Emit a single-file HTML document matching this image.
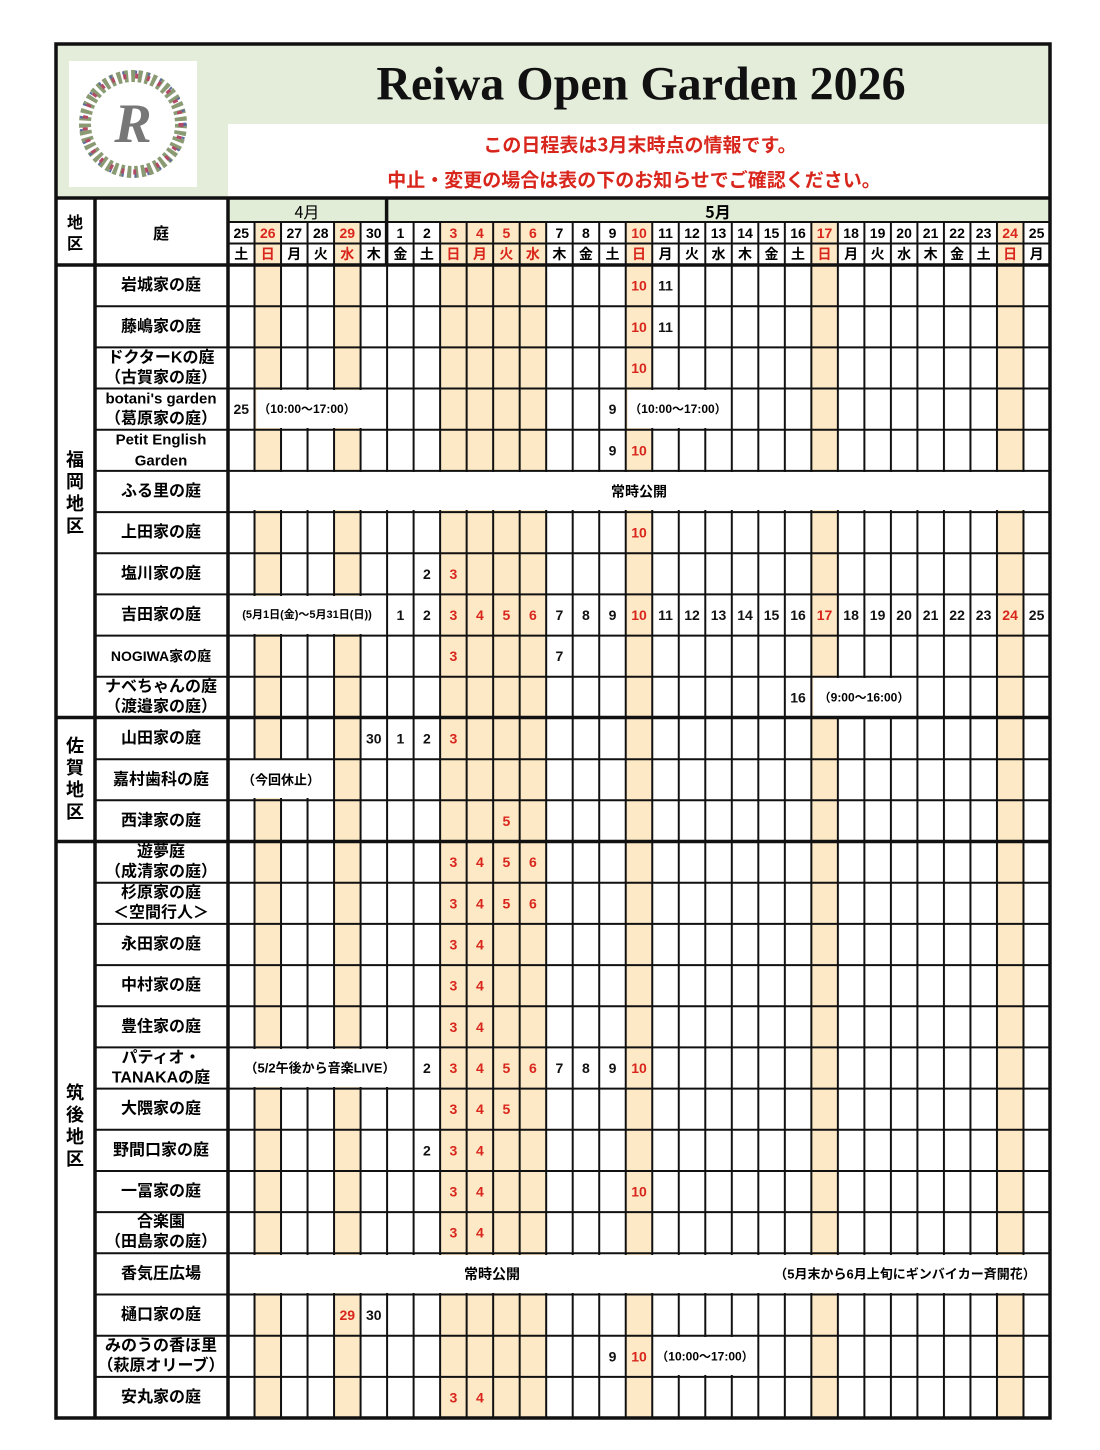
<!DOCTYPE html>
<html><head><meta charset="utf-8"><style>
html,body{margin:0;padding:0;background:#fff;}
svg{display:block;}
text{font-family:"Liberation Sans","Noto Sans CJK JP",sans-serif;font-weight:bold;dominant-baseline:central;text-anchor:middle;}
.j{font-family:"Noto Sans CJK JP","Liberation Sans",sans-serif;font-size:16px;}
.n{font-size:14px;fill:#111;}
.r{fill:#d9261c;}
.s{font-family:"Liberation Sans","Noto Sans CJK JP",sans-serif;font-size:12px;}
.h{font-size:14px;}
</style></head><body>
<svg width="1100" height="1450" viewBox="0 0 1100 1450" xmlns="http://www.w3.org/2000/svg">
<defs>
<pattern id="v" x="227" y="0" width="26.516" height="10" patternUnits="userSpaceOnUse"><rect x="0" y="0" width="2" height="10" fill="#111"/></pattern>
</defs>
<rect x="55" y="43" width="995" height="155" fill="#e3edda"/>
<rect x="69" y="61" width="128" height="126" fill="#fff"/>
<circle cx="133" cy="124" r="48" fill="none" stroke="#8a9b74" stroke-width="12" stroke-dasharray="4 3"/>
<circle cx="133" cy="124" r="48" fill="none" stroke="#b24a66" stroke-width="5" stroke-dasharray="3 9"/>
<circle cx="133" cy="124" r="52" fill="none" stroke="#5a6aa0" stroke-width="3" stroke-dasharray="2 11"/>
<text x="133" y="124" style="font-family:'Liberation Serif',serif;font-size:56px;fill:#777;font-style:italic">R</text>
<text x="641" y="84" style="font-family:'Liberation Serif',serif;font-size:48px;font-weight:bold;fill:#111">Reiwa Open Garden 2026</text>
<rect x="228" y="124" width="822" height="74" fill="#fff"/>
<text x="640" y="144" class="j r" style="font-size:19px">この日程表は3月末時点の情報です。</text>
<text x="634" y="179" class="j r" style="font-size:19px">中止・変更の場合は表の下のお知らせでご確認ください。</text>
<rect x="228" y="198" width="822" height="24" fill="#e2edd8"/>
<text x="307" y="211" class="j" style="font-weight:normal">4月</text>
<text x="718" y="211" class="j">5月</text>
<g fill="#fde9c6">
<rect x="254.5" y="222" width="26.5" height="1196"/>
<rect x="334.1" y="222" width="26.5" height="1196"/>
<rect x="440.1" y="222" width="106.1" height="1196"/>
<rect x="625.7" y="222" width="26.5" height="1196"/>
<rect x="811.4" y="222" width="26.5" height="1196"/>
<rect x="997" y="222" width="26.5" height="1196"/>
</g>
<rect x="228" y="222" width="822" height="1196" fill="url(#v)"/>
<g fill="#fff">
<rect x="256.5" y="390" width="129" height="38"/>
<rect x="627.7" y="390" width="102" height="38"/>
<rect x="229" y="472" width="820" height="38"/>
<rect x="229" y="596" width="157" height="38"/>
<rect x="813.4" y="678" width="102" height="38"/>
<rect x="229" y="760" width="104" height="38"/>
<rect x="229" y="1049" width="183" height="38"/>
<rect x="229" y="1255" width="820" height="38"/>
<rect x="654.3" y="1337" width="102" height="38"/>
</g>
<g stroke="#111" stroke-width="2">
<path d="M228 222H1050M228 243.5H1050"/>
<path d="M95 306.2H1050M95 347.4H1050M95 388.5H1050M95 429.7H1050M95 470.9H1050M95 512.1H1050M95 553.3H1050M95 594.4H1050M95 635.6H1050M95 676.8H1050"/>
<path d="M95 759.2H1050M95 800.3H1050"/>
<path d="M95 882.7H1050M95 923.9H1050M95 965.1H1050M95 1006.2H1050M95 1047.4H1050M95 1088.6H1050M95 1129.8H1050M95 1171H1050M95 1212.1H1050M95 1253.3H1050M95 1294.5H1050M95 1335.7H1050M95 1376.9H1050"/>
</g>
<g stroke="#111" stroke-width="3.5" fill="none">
<rect x="56" y="44" width="994" height="1374"/>
<path d="M55 198H1050M55 265H1050M55 717.5H1050M55 841.5H1050"/>
<path d="M95 198V1418M228 198V1418M386.6 198V265"/>
</g>
<text x="75" y="221" class="j">地</text><text x="75" y="242" class="j">区</text>
<text x="161" y="232" class="j">庭</text>
<g class="h">
<text x="241.3" y="233">25</text><text x="267.8" y="233" class="r">26</text><text x="294.3" y="233">27</text><text x="320.8" y="233">28</text><text x="347.3" y="233" class="r">29</text><text x="373.8" y="233">30</text><text x="400.4" y="233">1</text><text x="426.9" y="233">2</text><text x="453.4" y="233" class="r">3</text><text x="479.9" y="233" class="r">4</text><text x="506.4" y="233" class="r">5</text><text x="532.9" y="233" class="r">6</text><text x="559.4" y="233">7</text><text x="585.9" y="233">8</text><text x="612.5" y="233">9</text><text x="639" y="233" class="r">10</text><text x="665.5" y="233">11</text><text x="692" y="233">12</text><text x="718.5" y="233">13</text><text x="745" y="233">14</text><text x="771.5" y="233">15</text><text x="798" y="233">16</text><text x="824.5" y="233" class="r">17</text><text x="851.1" y="233">18</text><text x="877.6" y="233">19</text><text x="904.1" y="233">20</text><text x="930.6" y="233">21</text><text x="957.1" y="233">22</text><text x="983.6" y="233">23</text><text x="1010.1" y="233" class="r">24</text><text x="1036.6" y="233">25</text>
</g>
<g class="j" style="font-size:14px">
<text x="241.3" y="254">土</text><text x="267.8" y="254" class="r">日</text><text x="294.3" y="254">月</text><text x="320.8" y="254">火</text><text x="347.3" y="254" class="r">水</text><text x="373.8" y="254">木</text><text x="400.4" y="254">金</text><text x="426.9" y="254">土</text><text x="453.4" y="254" class="r">日</text><text x="479.9" y="254" class="r">月</text><text x="506.4" y="254" class="r">火</text><text x="532.9" y="254" class="r">水</text><text x="559.4" y="254">木</text><text x="585.9" y="254">金</text><text x="612.5" y="254">土</text><text x="639" y="254" class="r">日</text><text x="665.5" y="254">月</text><text x="692" y="254">火</text><text x="718.5" y="254">水</text><text x="745" y="254">木</text><text x="771.5" y="254">金</text><text x="798" y="254">土</text><text x="824.5" y="254" class="r">日</text><text x="851.1" y="254">月</text><text x="877.6" y="254">火</text><text x="904.1" y="254">水</text><text x="930.6" y="254">木</text><text x="957.1" y="254">金</text><text x="983.6" y="254">土</text><text x="1010.1" y="254" class="r">日</text><text x="1036.6" y="254">月</text>
</g>
<g class="j" style="font-size:18px">
<text x="75" y="460">福</text><text x="75" y="482">岡</text><text x="75" y="504">地</text><text x="75" y="526">区</text>
<text x="75" y="746">佐</text><text x="75" y="768">賀</text><text x="75" y="790">地</text><text x="75" y="812">区</text>
<text x="75" y="1093">筑</text><text x="75" y="1115">後</text><text x="75" y="1137">地</text><text x="75" y="1159">区</text>
</g>
<g class="j">
<text x="161" y="285.6">岩城家の庭</text>
<text x="161" y="326.8">藤嶋家の庭</text>
<text x="161" y="358">ドクターKの庭</text><text x="161" y="378">（古賀家の庭）</text>
<text x="161" y="399" style="font-family:'Liberation Sans',sans-serif;font-size:15px">botani's garden</text><text x="161" y="419">（葛原家の庭）</text>
<text x="161" y="440" style="font-family:'Liberation Sans',sans-serif;font-size:15px">Petit English</text><text x="161" y="461" style="font-family:'Liberation Sans',sans-serif;font-size:15px">Garden</text>
<text x="161" y="491.5">ふる里の庭</text>
<text x="161" y="532.7">上田家の庭</text>
<text x="161" y="573.9">塩川家の庭</text>
<text x="161" y="615">吉田家の庭</text>
<text x="161" y="656.2" style="font-size:14px">NOGIWA家の庭</text>
<text x="161" y="687">ナベちゃんの庭</text><text x="161" y="707">（渡邉家の庭）</text>
<text x="161" y="738.6">山田家の庭</text>
<text x="161" y="779.8">嘉村歯科の庭</text>
<text x="161" y="820.9">西津家の庭</text>
<text x="161" y="852">遊夢庭</text><text x="161" y="872">（成清家の庭）</text>
<text x="161" y="893">杉原家の庭</text><text x="161" y="913">＜空間行人＞</text>
<text x="161" y="944.5">永田家の庭</text>
<text x="161" y="985.7">中村家の庭</text>
<text x="161" y="1026.8">豊住家の庭</text>
<text x="161" y="1058">パティオ・</text><text x="161" y="1078">TANAKAの庭</text>
<text x="161" y="1109.2">大隈家の庭</text>
<text x="161" y="1150.4">野間口家の庭</text>
<text x="161" y="1191.6">一冨家の庭</text>
<text x="161" y="1222">合楽園</text><text x="161" y="1242">（田島家の庭）</text>
<text x="161" y="1273.9">香気圧広場</text>
<text x="161" y="1315.1">樋口家の庭</text>
<text x="161" y="1346">みのうの香ほ里</text><text x="161" y="1366">（萩原オリーブ）</text>
<text x="161" y="1397.5">安丸家の庭</text>
</g>
<g class="n">
<text x="639" y="285.6" class="r">10</text><text x="665.5" y="285.6">11</text>
<text x="639" y="326.8" class="r">10</text><text x="665.5" y="326.8">11</text>
<text x="639" y="368" class="r">10</text>
<text x="241.3" y="409.1">25</text><text x="612.5" y="409.1">9</text>
<text x="612.5" y="450.3">9</text><text x="639" y="450.3" class="r">10</text>
<text x="639" y="532.7" class="r">10</text>
<text x="426.9" y="573.9">2</text><text x="453.4" y="573.9" class="r">3</text>
<text x="400.4" y="615">1</text><text x="426.9" y="615">2</text><text x="453.4" y="615" class="r">3</text><text x="479.9" y="615" class="r">4</text><text x="506.4" y="615" class="r">5</text><text x="532.9" y="615" class="r">6</text><text x="559.4" y="615">7</text><text x="585.9" y="615">8</text><text x="612.5" y="615">9</text><text x="639" y="615" class="r">10</text><text x="665.5" y="615">11</text><text x="692" y="615">12</text><text x="718.5" y="615">13</text><text x="745" y="615">14</text><text x="771.5" y="615">15</text><text x="798" y="615">16</text><text x="824.5" y="615" class="r">17</text><text x="851.1" y="615">18</text><text x="877.6" y="615">19</text><text x="904.1" y="615">20</text><text x="930.6" y="615">21</text><text x="957.1" y="615">22</text><text x="983.6" y="615">23</text><text x="1010.1" y="615" class="r">24</text><text x="1036.6" y="615">25</text>
<text x="453.4" y="656.2" class="r">3</text><text x="559.4" y="656.2">7</text>
<text x="798" y="697.4">16</text>
<text x="373.8" y="738.6">30</text><text x="400.4" y="738.6">1</text><text x="426.9" y="738.6">2</text><text x="453.4" y="738.6" class="r">3</text>
<text x="506.4" y="820.9" class="r">5</text>
<text x="453.4" y="862.1" class="r">3</text><text x="479.9" y="862.1" class="r">4</text><text x="506.4" y="862.1" class="r">5</text><text x="532.9" y="862.1" class="r">6</text>
<text x="453.4" y="903.3" class="r">3</text><text x="479.9" y="903.3" class="r">4</text><text x="506.4" y="903.3" class="r">5</text><text x="532.9" y="903.3" class="r">6</text>
<text x="453.4" y="944.5" class="r">3</text><text x="479.9" y="944.5" class="r">4</text>
<text x="453.4" y="985.7" class="r">3</text><text x="479.9" y="985.7" class="r">4</text>
<text x="453.4" y="1026.8" class="r">3</text><text x="479.9" y="1026.8" class="r">4</text>
<text x="426.9" y="1068">2</text><text x="453.4" y="1068" class="r">3</text><text x="479.9" y="1068" class="r">4</text><text x="506.4" y="1068" class="r">5</text><text x="532.9" y="1068" class="r">6</text><text x="559.4" y="1068">7</text><text x="585.9" y="1068">8</text><text x="612.5" y="1068">9</text><text x="639" y="1068" class="r">10</text>
<text x="453.4" y="1109.2" class="r">3</text><text x="479.9" y="1109.2" class="r">4</text><text x="506.4" y="1109.2" class="r">5</text>
<text x="426.9" y="1150.4">2</text><text x="453.4" y="1150.4" class="r">3</text><text x="479.9" y="1150.4" class="r">4</text>
<text x="453.4" y="1191.6" class="r">3</text><text x="479.9" y="1191.6" class="r">4</text><text x="639" y="1191.6" class="r">10</text>
<text x="453.4" y="1232.7" class="r">3</text><text x="479.9" y="1232.7" class="r">4</text>
<text x="347.3" y="1315.1" class="r">29</text><text x="373.8" y="1315.1">30</text>
<text x="612.5" y="1356.3">9</text><text x="639" y="1356.3" class="r">10</text>
<text x="453.4" y="1397.5" class="r">3</text><text x="479.9" y="1397.5" class="r">4</text>
</g>
<g class="s">
<text x="307" y="409.1">（10:00〜17:00）</text>
<text x="678" y="409.1">（10:00〜17:00）</text>
<text x="307" y="615" style="font-size:11px">(5月1日(金)〜5月31日(日))</text>
<text x="864" y="697.4">（9:00〜16:00）</text>
<text x="281" y="779.8" style="font-size:13px">（今回休止）</text>
<text x="320" y="1068" style="font-size:13px">（5/2午後から音楽LIVE）</text>
<text x="705" y="1356.3">（10:00〜17:00）</text>
<text x="905" y="1273.9" style="font-size:13px">（5月末から6月上旬にギンバイカー斉開花）</text>
</g>
<text x="639" y="491.5" class="j" style="font-size:14px">常時公開</text>
<text x="492" y="1273.9" class="j" style="font-size:14px">常時公開</text>
</svg>
</body></html>
